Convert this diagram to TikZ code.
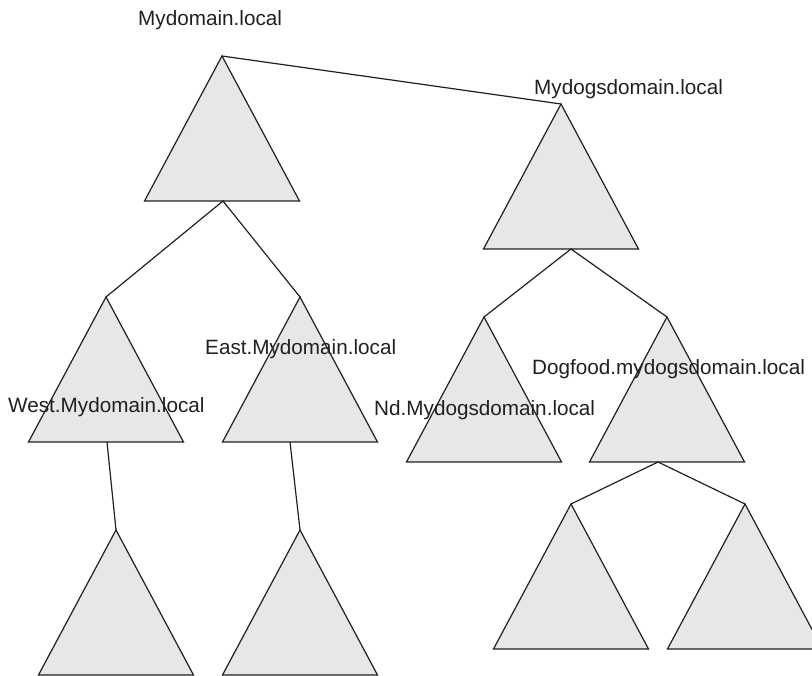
\documentclass[tikz,border=0pt]{standalone}
\usepackage{fontspec}
\setmainfont{Liberation Sans}
\definecolor{ink}{HTML}{231F20}
\definecolor{tfill}{HTML}{E6E7E8}
\tikzset{
  domtri/.style={draw=ink, fill=tfill, line width=1.2pt, line join=miter},
  link/.style={draw=ink, line width=1.2pt},
  lbl/.style={anchor=base west, inner sep=0pt, text=ink, font=\fontsize{20.7}{24}\selectfont}
}
% \domtriangle{name}{apex x}{apex y}
\newcommand\domtriangle[3]{%
  \coordinate (#1) at (#2,#3);
  \draw[domtri] (#1) -- ++(-77.5,145) -- ++(155,0) -- cycle;
}
\begin{document}
\begin{tikzpicture}[x=1pt,y=-1pt]
\useasboundingbox (0,0) rectangle (812,676);
% triangles (apex coordinates)
\domtriangle{A}{222}{56}
\domtriangle{B}{561}{104}
\domtriangle{C}{106}{297}
\domtriangle{D}{300}{297}
\domtriangle{E}{484}{317}
\domtriangle{F}{667}{317}
\domtriangle{G}{116}{530}
\domtriangle{H}{300}{530}
\domtriangle{I}{571}{504}
\domtriangle{J}{745}{504}
% junction points on the bases
\coordinate (Aj) at (223,201);
\coordinate (Bj) at (571,249);
\coordinate (Cj) at (107,442);
\coordinate (Dj) at (290,442);
\coordinate (Fj) at (658,462);
% connectors
\draw[link] (A) -- (B);
\draw[link] (C) -- (Aj) -- (D);
\draw[link] (E) -- (Bj) -- (F);
\draw[link] (Cj) -- (G);
\draw[link] (Dj) -- (H);
\draw[link] (I) -- (Fj) -- (J);
% labels
\node[lbl] (tA) at (138,26) {Mydomain.local};
\node[lbl] (tB) at (534,95) {Mydogsdomain.local};
\node[lbl] (tD) at (205,355) {East.Mydomain.local};
\node[lbl] (tC) at (8,413) {West.Mydomain.local};
\node[lbl] (tE) at (374,416) {Nd.Mydogsdomain.local};
\node[lbl] (tF) at (532,375) {Dogfood.mydogsdomain.local};
\end{tikzpicture}
\end{document}
